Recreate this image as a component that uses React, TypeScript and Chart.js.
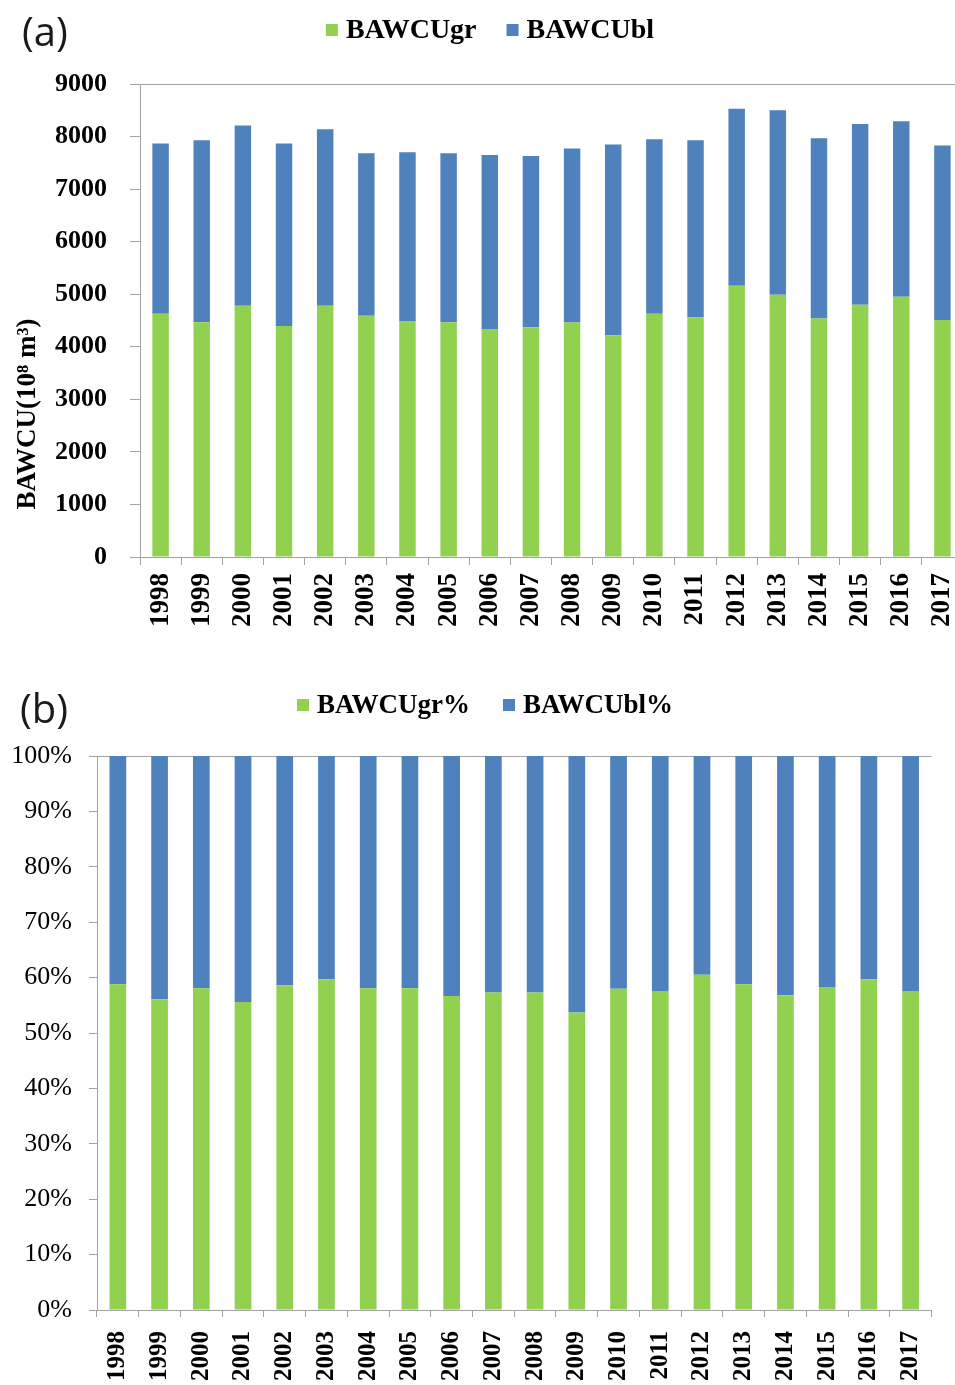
import React, { useEffect, useRef } from "react";
import { Chart, registerables } from "chart.js";

Chart.register(...registerables);

const years = ["1998","1999","2000","2001","2002","2003","2004","2005","2006","2007","2008","2009","2010","2011","2012","2013","2014","2015","2016","2017"];
const bawcuGr = [4630,4465,4780,4395,4780,4590,4490,4465,4340,4370,4460,4220,4630,4560,5160,4990,4540,4800,4950,4510];
const bawcuBl = [3240,3465,3430,3475,3360,3090,3210,3215,3310,3260,3315,3630,3320,3370,3370,3510,3430,3440,3340,3320];
const grPct = [58.8,56.1,58.1,55.6,58.6,59.7,58.1,58.1,56.7,57.3,57.3,53.7,58.0,57.6,60.5,58.8,56.8,58.3,59.7,57.6];
const blPct = [41.2,43.9,41.9,44.4,41.4,40.3,41.9,41.9,43.3,42.7,42.7,46.3,42.0,42.4,39.5,41.2,43.2,41.7,40.3,42.4];
const topTicks = [0,1000,2000,3000,4000,5000,6000,7000,8000,9000];
const pctTicks = [0,10,20,30,40,50,60,70,80,90,100];

const GREEN = "#92D050";
const BLUE = "#4F81BD";
const AXIS = "#a3a3a3";
const SERIF = "'Liberation Serif', 'Times New Roman', serif";

const decoPlugin = {
  id: "deco",
  afterDraw(chart: any, _args: any, opts: any) {
    const ctx = chart.ctx;
    ctx.save();
    ctx.textBaseline = "middle";
    ctx.textAlign = "left";
    ctx.fillStyle = "#1a1a1a";
    ctx.font = opts.tagFont;
    ctx.fillText(opts.tag, opts.tagX, opts.tagY);
    ctx.font = opts.legendFont;
    const items = chart.data.datasets.map((d: any) => ({
      text: d.label,
      color: d.backgroundColor,
      w: ctx.measureText(d.label).width,
    }));
    const box = opts.box;
    const total =
      items.reduce((s: number, it: any) => s + box + opts.gapText + it.w, 0) +
      opts.gapItem * (items.length - 1);
    let x = opts.legendCX - total / 2;
    for (const it of items) {
      ctx.fillStyle = it.color;
      ctx.fillRect(x, opts.legendY - box / 2, box, box);
      x += box + opts.gapText;
      ctx.fillStyle = "#000";
      ctx.fillText(it.text, x, opts.legendY + 1);
      x += it.w + opts.gapItem;
    }
    if (opts.yTitle) {
      ctx.translate(opts.yTitleX, opts.yTitleY);
      ctx.rotate(-Math.PI / 2);
      ctx.textAlign = "center";
      ctx.font = opts.yTitleFont;
      ctx.fillStyle = "#000";
      ctx.fillText(opts.yTitle, 0, 0);
    }
    ctx.restore();
  },
};

function makeTop(canvas: HTMLCanvasElement) {
  return new Chart(canvas, {
    type: "bar",
    data: {
      labels: years,
      datasets: [
        { label: "BAWCUgr", data: bawcuGr, backgroundColor: GREEN, barPercentage: 0.4, categoryPercentage: 1 },
        { label: "BAWCUbl", data: bawcuBl, backgroundColor: BLUE, barPercentage: 0.4, categoryPercentage: 1 },
      ],
    },
    plugins: [decoPlugin],
    options: {
      responsive: false,
      animation: false,
      layout: { padding: { top: 84, left: 0, right: 27, bottom: 0 } },
      plugins: {
        legend: { display: false },
        tooltip: { enabled: false },
        deco: {
          tag: "(a)", tagX: 22, tagY: 35, tagFont: "40px 'Open Sans', sans-serif",
          legendFont: `bold 28px ${SERIF}`, legendCX: 490, legendY: 30, box: 12, gapText: 8, gapItem: 30,
          yTitle: "BAWCU(10\u2078 m\u00B3)", yTitleX: 28, yTitleY: 414, yTitleFont: `bold 27px ${SERIF}`,
        },
      } as any,
      scales: {
        x: {
          stacked: true,
          grid: { offset: true, color: "rgba(0,0,0,0)", tickColor: AXIS, tickLength: 8, drawOnChartArea: true },
          border: { display: true, color: AXIS, width: 1 },
          ticks: { minRotation: 90, maxRotation: 90, autoSkip: false, padding: 8, color: "#000", font: { family: SERIF, size: 27, weight: "bold" } },
          afterFit: (s: any) => { s.height = 93; },
        },
        y: {
          stacked: true,
          min: 0,
          max: 9000,
          afterBuildTicks: (s: any) => { s.ticks = topTicks.map((v) => ({ value: v })); },
          grid: { color: (c: any) => (c.tick && c.tick.value === 9000 ? AXIS : "rgba(0,0,0,0)"), tickColor: AXIS, tickLength: 10 },
          border: { display: true, color: AXIS, width: 1 },
          ticks: { padding: 23, color: "#000", font: { family: SERIF, size: 26, weight: "bold" }, callback: (v: any) => String(v) },
          afterFit: (s: any) => { s.width = 140; },
        },
      },
    },
  } as any);
}

function makeBottom(canvas: HTMLCanvasElement) {
  return new Chart(canvas, {
    type: "bar",
    data: {
      labels: years,
      datasets: [
        { label: "BAWCUgr%", data: grPct, backgroundColor: GREEN, barPercentage: 0.4, categoryPercentage: 1 },
        { label: "BAWCUbl%", data: blPct, backgroundColor: BLUE, barPercentage: 0.4, categoryPercentage: 1 },
      ],
    },
    plugins: [decoPlugin],
    options: {
      responsive: false,
      animation: false,
      layout: { padding: { top: 106, left: 0, right: 16, bottom: 0 } },
      plugins: {
        legend: { display: false },
        tooltip: { enabled: false },
        deco: {
          tag: "(b)", tagX: 20, tagY: 62, tagFont: "40px 'Open Sans', sans-serif",
          legendFont: `bold 27px ${SERIF}`, legendCX: 485, legendY: 55, box: 12, gapText: 8, gapItem: 33,
        },
      } as any,
      scales: {
        x: {
          stacked: true,
          grid: {
            offset: true,
            color: (c: any) => (c.index === years.length ? AXIS : "rgba(0,0,0,0)"),
            tickColor: AXIS,
            tickLength: 7,
          },
          border: { display: true, color: AXIS, width: 1 },
          ticks: { minRotation: 90, maxRotation: 90, autoSkip: false, padding: 14, color: "#000", font: { family: SERIF, size: 25, weight: "bold" } },
          afterFit: (s: any) => { s.height = 75; },
        },
        y: {
          stacked: true,
          min: 0,
          max: 100,
          afterBuildTicks: (s: any) => { s.ticks = pctTicks.map((v) => ({ value: v })); },
          grid: { color: (c: any) => (c.tick && c.tick.value === 100 ? AXIS : "rgba(0,0,0,0)"), tickColor: AXIS, tickLength: 8 },
          border: { display: true, color: AXIS, width: 1 },
          ticks: { padding: 17, color: "#000", font: { family: SERIF, size: 26 }, callback: (v: any) => v + "%" },
          afterFit: (s: any) => { s.width = 97; },
        },
      },
    },
  } as any);
}

export default function App() {
  const topRef = useRef<HTMLCanvasElement>(null);
  const botRef = useRef<HTMLCanvasElement>(null);
  useEffect(() => {
    const a = makeTop(topRef.current!);
    const b = makeBottom(botRef.current!);
    return () => {
      a.destroy();
      b.destroy();
    };
  }, []);
  return (
    <div style={{ position: "absolute", left: 0, top: 0, width: 955, height: 1385, overflow: "hidden", background: "#fff" }}>
      <canvas ref={topRef} width={990} height={650} style={{ position: "absolute", left: 0, top: 0, width: 990, height: 650 }} />
      <canvas ref={botRef} width={955} height={735} style={{ position: "absolute", left: 0, top: 650, width: 955, height: 735 }} />
    </div>
  );
}
